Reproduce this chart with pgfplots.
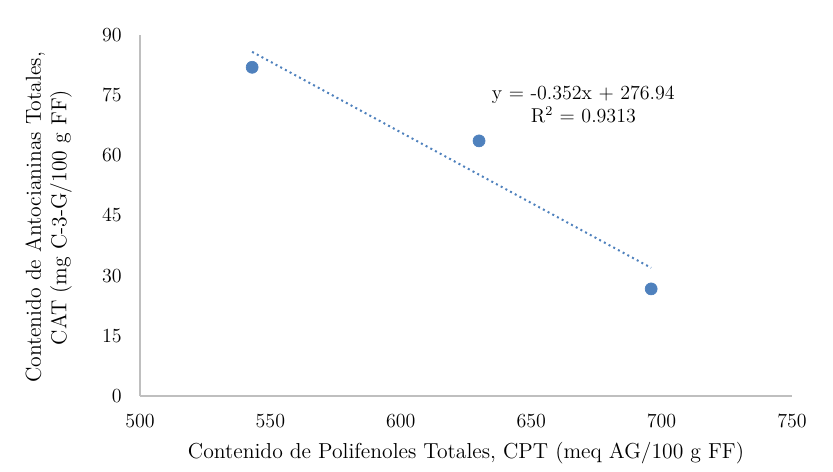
\documentclass[border=0pt]{standalone}
\usepackage{pgfplots}
\pgfplotsset{compat=1.18}
\definecolor{mblue}{RGB}{79,129,189}
\definecolor{axgray}{RGB}{191,191,191}
\begin{document}
\begin{tikzpicture}
\begin{axis}[
  scale only axis,
  width=391.2pt, height=216.6pt,
  xmin=500, xmax=750, ymin=0, ymax=90,
  xtick={500,550,...,750}, ytick={0,15,...,90},
  axis x line*=bottom, axis y line*=left,
  axis line style={axgray, line width=0.8pt},
  x axis line style={-}, y axis line style={-},
  major tick length=0pt,
  tick label style={font=\fontsize{12}{14}\selectfont},
  xticklabel style={anchor=center, yshift=-15pt},
  yticklabel style={anchor=east, xshift=-7.4pt},
  label style={font=\fontsize{13}{15}\selectfont},
  xlabel={Contenido de Polifenoles Totales, CPT (meq AG/100 g FF)},
  ylabel={\shortstack{Contenido de Antocianinas Totales,\\CAT (mg C-3-G/100 g FF)}},
  xlabel style={at={(rel axis cs:0.5,0)}, anchor=center, yshift=-34pt},
  ylabel style={at={(rel axis cs:0,0.5)}, anchor=center, yshift=54.8pt, xshift=-1.2pt},
  clip=false,
]
\addplot[only marks, mark=*, mark size=3.6pt, mblue] coordinates {
  (543,81.95) (630,63.6) (696,26.7)
};
\addplot[mblue, dotted, line width=1.2pt] coordinates {
  (543,85.80) (696,31.95)
};
\node[font=\fontsize{12}{14}\selectfont, inner sep=0pt] at (axis cs:670,75.04) {y = -0.352x + 276.94};
\node[font=\fontsize{12}{14}\selectfont, inner sep=0pt] at (axis cs:670,70.05) {R$^2$ = 0.9313};
\end{axis}
\useasboundingbox ([shift={(-84pt,-45.6pt)}]current axis.south west) rectangle ([shift={(24.6pt,21pt)}]current axis.north east);
\end{tikzpicture}
\end{document}
